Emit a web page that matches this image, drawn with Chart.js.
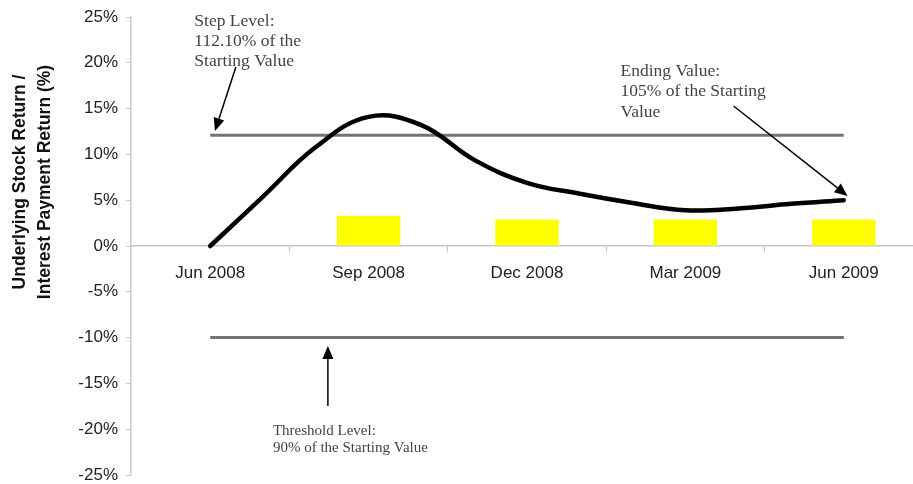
<!DOCTYPE html>
<html lang="en">
<head>
  <meta charset="UTF-8">
  <title>Step Level / Threshold Level</title>
  <script src="https://cdn.jsdelivr.net/npm/chart.js"></script>
  <style>
    html, body { margin: 0; padding: 0; background: #fff; overflow: hidden; }
    #wrap { width: 924px; height: 484px; }
  </style>
</head>
<body>
  <div id="wrap">
    <canvas id="chart" width="924" height="484"></canvas>
  </div>
  <script>
    // Quarterly categories (bars) and monthly positions (line)
    const categories = ['Jun 2008', 'Sep 2008', 'Dec 2008', 'Mar 2009', 'Jun 2009'];
    const interestPayments = [null, 3.3, 2.9, 2.9, 2.9];
    const monthPos = [0, 1/3, 2/3, 1, 4/3, 5/3, 2, 7/3, 8/3, 3, 10/3, 11/3, 4];
    const stockReturn = [0, 5.4, 10.8, 14.1, 13.2, 9.4, 6.9, 5.7, 4.7, 3.9, 4.1, 4.6, 5.0];
    const levelX = [0, 4];
    const stepLevel = 12.1;
    const thresholdLevel = -10;
    const yTicks = [-25, -20, -15, -10, -5, 0, 5, 10, 15, 20, 25];

    // text notes and arrows, placed in data space (x2 / y)
    const notes = [
      { x: -0.10, y: 24.0, step: 2.2, size: 17.5, lines: ['Step Level:', '112.10% of the', 'Starting Value'] },
      { x: 2.59, y: 18.56, step: 2.22, size: 17.5, lines: ['Ending Value:', '105% of the Starting', 'Value'] },
      { x: 0.396, y: -20.63, step: 1.86, size: 15, lines: ['Threshold Level:', '90% of the Starting Value'] }
    ];
    const arrows = [
      { from: [0.162, 19.54], to: [0.03, 12.55] },
      { from: [3.304, 15.28], to: [4.024, 5.46] },
      { from: [0.743, -17.47], to: [0.743, -10.92] }
    ];

    const annotate = {
      id: 'annotate',
      afterDraw(chart) {
        const ctx = chart.ctx;
        const xs = chart.scales.x2, ys = chart.scales.y;
        const area = chart.chartArea;
        ctx.save();

        // y axis title (two lines)
        ctx.fillStyle = '#111';
        ctx.font = 'bold 17.5px "Liberation Sans", Arial, sans-serif';
        ctx.textAlign = 'center';
        ctx.textBaseline = 'middle';
        const cy = area.top + 165;
        ['Underlying Stock Return /', 'Interest Payment Return (%)'].forEach((t, i) => {
          ctx.save();
          ctx.translate(20 + i * 25, cy);
          ctx.rotate(-Math.PI / 2);
          ctx.fillText(t, 0, 0);
          ctx.restore();
        });

        // notes
        ctx.fillStyle = '#444';
        ctx.textAlign = 'left';
        ctx.textBaseline = 'alphabetic';
        notes.forEach(n => {
          ctx.font = n.size + 'px "Liberation Serif", "Times New Roman", serif';
          n.lines.forEach((t, i) => {
            ctx.fillText(t, xs.getPixelForValue(n.x), ys.getPixelForValue(n.y - i * n.step));
          });
        });

        // arrows
        ctx.strokeStyle = '#000';
        ctx.fillStyle = '#000';
        ctx.lineWidth = 1.5;
        arrows.forEach(a => {
          const x1 = xs.getPixelForValue(a.from[0]), y1 = ys.getPixelForValue(a.from[1]);
          const x2 = xs.getPixelForValue(a.to[0]), y2 = ys.getPixelForValue(a.to[1]);
          const ang = Math.atan2(y2 - y1, x2 - x1);
          const len = 13, half = 5.5;
          const bx = x2 - len * Math.cos(ang), by = y2 - len * Math.sin(ang);
          ctx.beginPath();
          ctx.moveTo(x1, y1);
          ctx.lineTo(bx, by);
          ctx.stroke();
          ctx.beginPath();
          ctx.moveTo(x2, y2);
          ctx.lineTo(bx + half * Math.sin(ang), by - half * Math.cos(ang));
          ctx.lineTo(bx - half * Math.sin(ang), by + half * Math.cos(ang));
          ctx.closePath();
          ctx.fill();
        });
        ctx.restore();
      }
    };

    // keep the axes from pushing the plot area in
    const noVPad = s => { s.paddingTop = 0; s.paddingBottom = 0; };

    new Chart(document.getElementById('chart'), {
      data: {
        labels: categories,
        datasets: [
          {
            type: 'line',
            label: 'Step Level',
            xAxisID: 'x2',
            data: levelX.map(x => ({ x, y: stepLevel })),
            borderColor: '#747474',
            borderWidth: 3,
            pointRadius: 0,
            order: 2
          },
          {
            type: 'line',
            label: 'Threshold Level',
            xAxisID: 'x2',
            data: levelX.map(x => ({ x, y: thresholdLevel })),
            borderColor: '#747474',
            borderWidth: 3,
            pointRadius: 0,
            order: 2
          },
          {
            type: 'bar',
            label: 'Interest Payment',
            xAxisID: 'x',
            data: interestPayments,
            backgroundColor: '#FFFF00',
            grouped: false,
            categoryPercentage: 1,
            barPercentage: 0.4,
            order: 3
          },
          {
            type: 'line',
            label: 'Underlying Stock',
            xAxisID: 'x2',
            data: monthPos.map((x, i) => ({ x, y: stockReturn[i] })),
            borderColor: '#000',
            borderWidth: 4.5,
            pointRadius: 0,
            tension: 0.4,
            borderCapStyle: 'round',
            order: 1
          }
        ]
      },
      options: {
        responsive: false,
        animation: false,
        layout: { padding: { top: 17, bottom: 9, left: 0, right: 1 } },
        plugins: { legend: { display: false }, tooltip: { enabled: false } },
        scales: {
          x: {
            type: 'category',
            position: { y: 0 },
            offset: true,
            afterFit: noVPad,
            grid: { drawOnChartArea: false, offset: true, tickLength: 6, color: '#c8c8c8' },
            border: { color: '#c8c8c8', width: 1.5 },
            ticks: {
              color: '#222',
              padding: 11,
              font: { family: '"Liberation Sans", Arial, sans-serif', size: 17 },
              maxRotation: 0
            }
          },
          x2: {
            type: 'linear',
            display: false,
            afterFit: noVPad,
            min: -0.5,
            max: 4.5
          },
          y: {
            min: -25,
            max: 25,
            afterFit: s => { s.width = 131; noVPad(s); },
            afterBuildTicks: s => { s.ticks = yTicks.map(v => ({ value: v })); },
            grid: { drawOnChartArea: false, tickLength: 5, color: '#c8c8c8' },
            border: { color: '#c8c8c8', width: 1.5 },
            ticks: {
              color: '#222',
              padding: 8,
              font: { family: '"Liberation Sans", Arial, sans-serif', size: 17 },
              callback: v => v + '%'
            }
          }
        }
      },
      plugins: [annotate]
    });
  </script>
</body>
</html>
